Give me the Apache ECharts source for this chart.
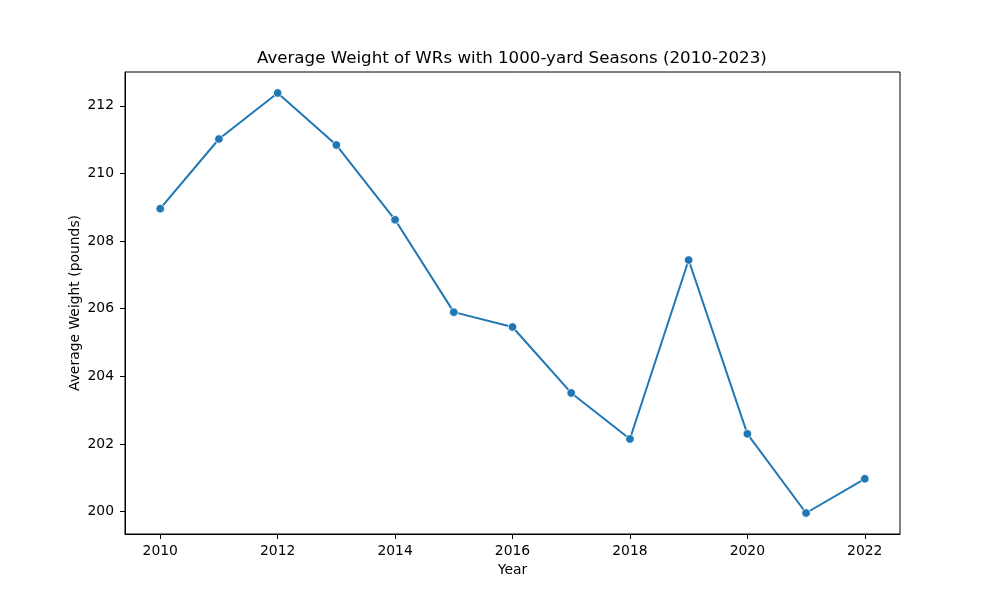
<!DOCTYPE html>
<html>
<head>
<meta charset="utf-8">
<script src="https://cdn.jsdelivr.net/npm/echarts@6/dist/echarts.min.js"></script>
<style>html,body{margin:0;padding:0;background:#fff;}#c{width:1000px;height:600px;}</style>
</head>
<body>
<div id="c"></div>
<script>
const years = [2010, 2011, 2012, 2013, 2014, 2015, 2016, 2017, 2018, 2019, 2020, 2021, 2022];
const avgWeight = [208.96, 211.02, 212.38, 210.84, 208.63, 205.90, 205.46, 203.51, 202.15, 207.44, 202.30, 199.96, 200.97];
const xTicks = [2010, 2012, 2014, 2016, 2018, 2020, 2022];
const yTicks = [200, 202, 204, 206, 208, 210, 212];

const font = 'DejaVu Sans';
const chart = echarts.init(document.getElementById('c'), null, {renderer: 'canvas'});
const data = years.map((y, i) => [y, avgWeight[i]]);
chart.setOption({
  animation: false,
  backgroundColor: '#fff',
  title: {
    text: 'Average Weight of WRs with 1000-yard Seasons (2010-2023)',
    left: 257, top: 50, padding: 0,
    textStyle: {fontFamily: font, fontSize: 16.67, fontWeight: 'normal', color: '#000'}
  },
  grid: {left: 125, right: 100, top: 72, bottom: 66, show: true, borderColor: '#000', borderWidth: 1, backgroundColor: 'transparent'},
  xAxis: {
    type: 'value', min: 2009.4, max: 2022.6,
    name: 'Year', nameLocation: 'middle', nameGap: 29, nameMoveOverlap: false,
    nameTextStyle: {fontFamily: font, fontSize: 13.9, color: '#000'},
    axisLine: {show: true, onZero: false, lineStyle: {color: '#000', width: 1}},
    axisTick: {show: true, length: 5, lineStyle: {color: '#000'}, customValues: xTicks},
    axisLabel: {fontFamily: font, fontSize: 13.9, color: '#000', margin: 10, customValues: xTicks, formatter: v => String(v)},
    splitLine: {show: false}
  },
  yAxis: {
    type: 'value', min: 199.339, max: 213.001,
    name: 'Average Weight (pounds)', nameLocation: 'middle', nameGap: 43, nameMoveOverlap: false,
    nameTextStyle: {fontFamily: font, fontSize: 13.9, color: '#000'},
    axisLine: {show: true, onZero: false, lineStyle: {color: '#000', width: 1}},
    axisTick: {show: true, length: 5, lineStyle: {color: '#000'}, customValues: yTicks},
    axisLabel: {fontFamily: font, fontSize: 13.9, color: '#000', margin: 11, customValues: yTicks, formatter: v => String(v)},
    splitLine: {show: false}
  },
  series: [{
    type: 'line', data: data,
    symbol: 'circle', symbolSize: 8.5, showAllSymbol: true,
    lineStyle: {color: '#1f77b4', width: 2},
    itemStyle: {color: '#1f77b4', borderColor: '#fff', borderWidth: 0.75}
  }]
});
</script>
</body>
</html>
